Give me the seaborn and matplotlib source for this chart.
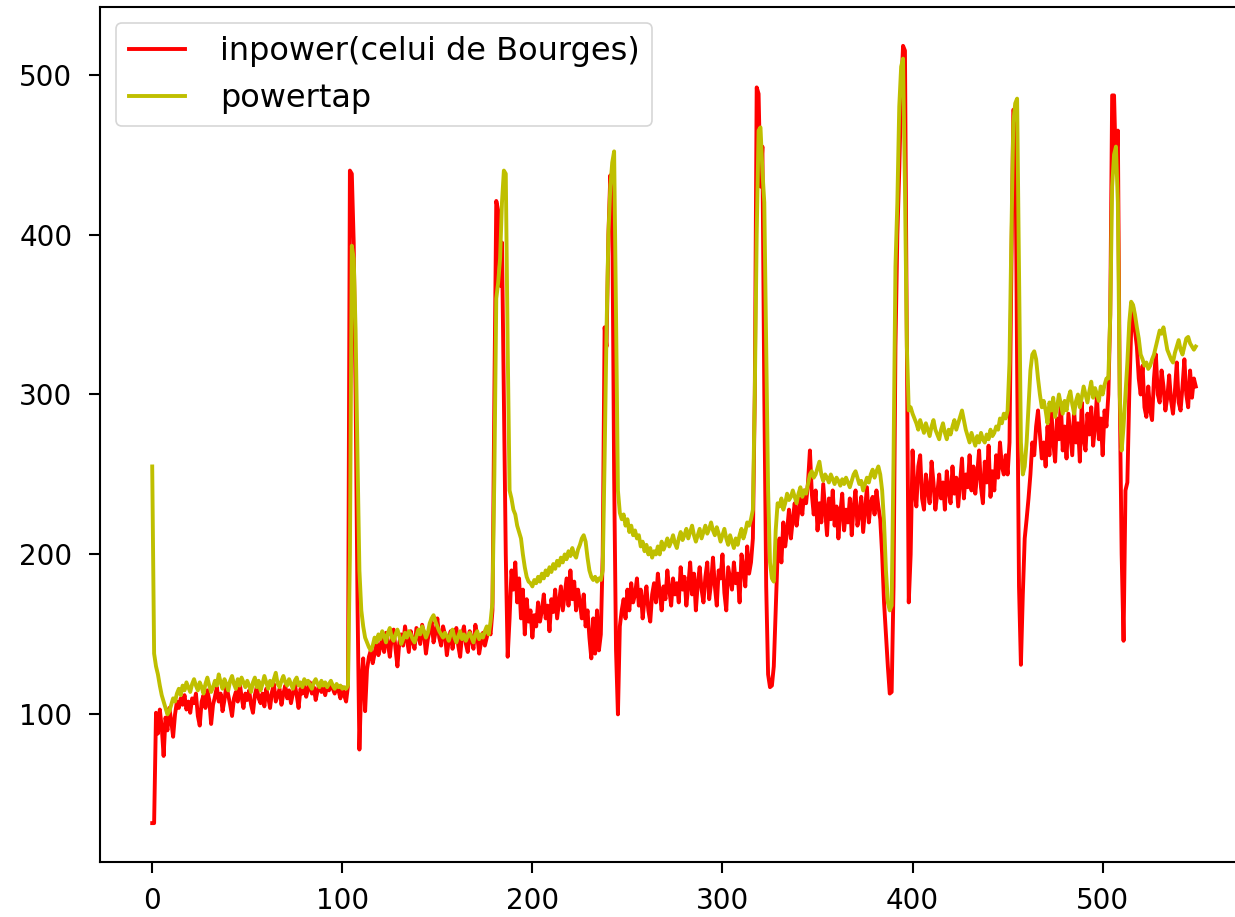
import numpy as np
import pandas as pd
import matplotlib
matplotlib.use("Agg")
import matplotlib.pyplot as plt
import seaborn as sns

# ---- data, one value per sample index ----
inpower = [
    32, 32, 101, 88, 103, 92, 74, 98, 90, 104, 96,
    86, 100, 108, 104, 110, 106, 112, 103, 108, 101,
    110, 107, 113, 99, 93, 108, 112, 104, 115, 109,
    94, 106, 111, 117, 108, 113, 102, 109, 118, 112,
    106, 99, 110, 114, 108, 120, 111, 104, 113, 109,
    115, 106, 101, 112, 117, 110, 107, 113, 105, 116,
    111, 104, 114, 119, 108, 112, 116, 106, 113, 118,
    110, 115, 107, 113, 119, 112, 104, 116, 113, 118,
    111, 116, 120, 113, 117, 109, 115, 119, 114, 117,
    112, 118, 115, 120, 116, 113, 118, 115, 110, 117,
    112, 108, 118,
    440, 438, 395, 300, 170, 78, 120, 135, 102, 128, 136,
    140, 132, 138, 145, 137, 142, 148, 139, 151, 144, 136,
    148, 153, 141, 130, 145, 150, 143, 155, 147, 139, 152, 146, 141, 154, 149,
    144, 156, 150, 138, 147, 153, 158, 145, 151, 160,
    148, 143, 155, 150, 137, 146, 152, 141, 149, 154,
    143, 136, 150, 155, 144, 139, 152, 147, 141, 156, 149, 138, 145, 151, 143, 148, 153, 150,
    165, 300, 421, 415, 368, 395, 300, 200, 136, 160, 190, 178, 195, 170, 185, 160, 178, 150, 172, 158, 165,
    148, 162, 155, 170, 158, 165, 175, 160, 168, 152, 172, 164, 178, 160, 170, 180,
    165, 175, 185, 168, 190, 172, 183, 165, 178, 170, 160, 175, 155, 165, 148,
    135, 160, 138, 165, 140, 150,
    200, 342, 330, 400, 437, 420, 250, 140, 100, 155, 165,
    172, 160, 178, 165, 182, 170, 175, 185, 168, 178, 160, 172, 180,
    165, 158, 175, 182, 170, 188, 176, 165, 180, 172, 190, 178, 168, 185, 175,
    182, 170, 192, 178, 186, 168, 180, 195, 175, 188, 165, 182, 192, 178, 170,
    186, 195, 172, 182, 198, 180, 168, 190, 185, 200, 176, 165, 192, 185, 178,
    195, 182, 188, 170, 200, 192, 180, 205, 188, 195, 210,
    300, 492, 488, 430, 455, 300, 180, 125, 117, 118, 130, 165, 200,
    210, 195, 220, 205, 215, 228, 210, 222, 232, 218, 228, 235, 225, 240, 232, 245,
    265, 238,
    225, 240, 215, 232, 220, 244, 228, 212, 235, 222, 240, 218, 230, 210, 226, 238, 215, 228,
    220, 235, 212, 230, 240, 218, 225, 236, 214, 228, 242, 220, 232, 236, 225, 240, 230, 222, 200,
    170, 150, 130, 113, 114, 180, 330, 400, 440, 490, 518, 515, 330, 170, 200,
    265, 240, 230, 255, 262, 235, 228, 250, 240, 232, 258, 245, 228, 238, 250, 235,
    245, 228, 252, 240, 232, 255, 238, 248, 230, 245, 260, 235, 250, 242, 262, 240, 255,
    238, 250, 265, 242, 232, 258, 245, 268, 236, 252, 240, 262, 248, 270, 255, 250, 262, 250, 270,
    380, 478, 476, 320, 180, 131, 175, 210, 222,
    235, 250, 270, 262, 280, 290, 275, 260, 270, 255,
    280, 262, 290, 270, 258, 285, 272, 295, 265, 280, 260, 288, 275, 262, 290,
    270, 282, 258, 295, 272, 265, 288, 275, 292, 268, 280, 300, 272, 285, 262,
    290, 280, 300, 350, 487, 487, 440, 465, 300, 200, 146, 240, 245, 300, 340, 355,
    340, 330, 310,
    300, 318, 292, 286, 305, 290, 284, 310, 325, 300, 295, 315, 305, 290, 298, 312,
    296, 288, 302, 320, 295, 290, 305, 322, 300, 292, 315, 298, 310, 305,
]

powertap = [
    255, 138, 130, 125, 118, 112, 108, 104, 100, 102, 106,
    110, 108, 113, 116, 112, 118, 115, 120, 117, 114,
    119, 122, 118, 115, 120, 117, 113, 119, 123, 118,
    114, 117, 121, 118, 125, 120, 116, 122, 119, 115,
    121, 124, 119, 116, 122, 118, 123, 120, 117, 121,
    118, 114, 120, 123, 117, 121, 115, 119, 124, 120,
    116, 121, 118, 122, 126, 119, 117, 121, 124, 120,
    118, 122, 119, 116, 121, 123, 118, 120, 117, 122,
    119, 121, 118, 116, 120, 122, 119, 117, 121, 118,
    120, 117, 119, 121, 118, 116, 119, 117, 118, 116,
    117, 116, 118,
    200, 393, 385, 340, 260, 190, 165, 155, 148, 145, 142,
    140, 143, 148, 145, 150, 147, 152, 149, 145, 151,
    154, 148, 146, 150, 153, 149, 144, 147, 151, 148, 152,
    150, 147, 145, 149, 153, 150, 155, 152, 148, 151,
    157, 160, 162, 158, 155, 152, 150, 148, 151, 149,
    146, 150, 153, 148, 145,
    149, 152, 147, 150, 146, 149, 151, 148, 145, 150, 152, 147, 150, 148, 152, 155, 150, 158,
    170, 250, 360, 370, 385, 420, 440, 438, 330, 240, 235, 228, 225, 218, 214, 210, 200, 192, 186, 183, 182,
    180, 184, 182, 186, 183, 188, 185, 190, 187, 192, 189, 194, 191, 196, 193, 198,
    195, 200, 197, 202, 199, 204, 200, 198, 203, 206,
    210, 212, 208, 198, 190, 186, 184, 186, 183, 185, 184,
    190, 260, 340, 400, 430, 445, 452, 350, 240, 226, 222,
    225, 218, 222, 214, 218, 212, 215, 210, 212, 205, 208, 202, 206, 200, 204, 198, 202, 200,
    205, 200, 208, 203, 206, 210, 205, 208, 212, 207,
    204, 210, 214, 209, 212, 216, 210, 214, 218, 212,
    208, 212, 216, 210, 214, 218, 213, 216, 220, 215,
    212, 217, 213, 208, 212, 216, 210, 206, 212, 208,
    204, 210, 206, 212, 216, 210, 214, 220, 218, 222, 228,
    300, 400, 465, 467, 440, 420, 330, 240, 195, 185, 183, 215, 232,
    230, 235, 228, 232, 238, 234, 236, 240, 236, 232, 238, 242, 236, 240, 238, 244, 250,
    252, 248, 250, 254, 258, 250, 246, 250, 248, 245,
    250, 247, 244, 248, 246, 243, 247, 244, 248,
    245, 242, 246, 250, 252, 248, 244, 246, 240, 244,
    248, 245, 250, 253, 248, 252, 255, 250, 240,
    220, 190, 170, 165, 168, 260, 380, 420, 480, 505, 510, 430, 330, 290,
    292, 288, 285, 282, 278, 284, 280, 276, 282, 278,
    274, 280, 284, 278, 275, 272, 278, 282, 276, 272, 278, 275,
    280, 284, 278, 282, 286, 290, 284, 278, 274, 270,
    276, 272, 268, 274, 270, 276, 272, 270, 275, 272,
    278, 274, 276, 280, 278, 285, 282, 288, 285, 290,
    320, 400, 470, 482, 485, 380, 270, 250, 255, 270,
    292, 315, 325, 327, 322, 310, 300, 292, 296, 290,
    282, 295, 290, 298, 286, 292, 300, 294, 288, 296,
    290, 298, 302, 294, 288, 296, 300, 292, 298, 305,
    300, 295, 302, 308, 298, 304, 300, 296, 305, 300, 306, 310,
    310, 350, 430, 450, 455, 420, 300, 265, 280, 300, 320, 345, 358, 356,
    350, 342, 335, 325, 322, 318, 320, 316, 318, 322, 325, 330, 335, 340,
    338, 342, 335, 328, 325, 322, 320, 326, 330, 334,
    328, 325, 330, 335, 336, 332, 330, 328, 330,
]

series_labels = ["inpower(celui de Bourges)", "powertap"]
series_colors = ["#ff0000", "#bfbf00"]

# ---- figure ----
fig = plt.figure(figsize=(12.35, 9.17), dpi=100)
ax = fig.add_axes([0.081, 0.060, 0.9295, 0.9324])

for vals, lab, col in zip([inpower, powertap], series_labels, series_colors):
    df = pd.DataFrame({"t": np.arange(len(vals)), "w": vals})
    sns.lineplot(data=df, x="t", y="w", ax=ax, color=col, label=lab,
                 linewidth=2.8, estimator=None)

ax.set_xlabel("")
ax.set_ylabel("")
ax.set_xticks([0, 100, 200, 300, 400, 500])
ax.set_yticks([100, 200, 300, 400, 500])
ax.tick_params(axis="both", labelsize=20, length=8, width=1.5,
               colors="black")
ax.tick_params(axis="x", pad=10)
ax.tick_params(axis="y", pad=12)
for sp in ax.spines.values():
    sp.set_linewidth(1.5)
    sp.set_color("black")

leg = ax.legend(loc="upper left", fontsize=23, frameon=True,
                borderaxespad=0.5, handlelength=1.75, handletextpad=1.1)
leg.get_frame().set_linewidth(1.2)

fig.savefig("out.png", dpi=100)
